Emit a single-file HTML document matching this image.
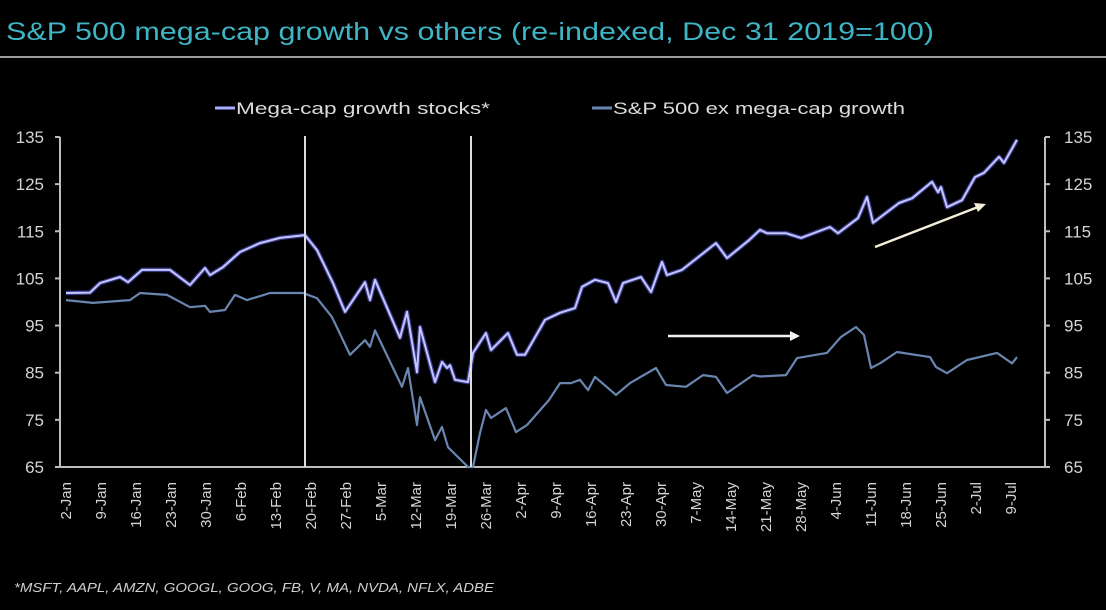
<!DOCTYPE html>
<html><head><meta charset="utf-8"><style>
html,body{margin:0;padding:0;background:#000;}
svg{display:block;font-family:"Liberation Sans",sans-serif;}
</style></head><body>
<svg id="chart" width="1106" height="610" viewBox="0 0 1106 610">
<text x="6" y="40" font-size="25" fill="#3fb4c4" textLength="928" lengthAdjust="spacingAndGlyphs">S&amp;P 500 mega-cap growth vs others (re-indexed, Dec 31 2019=100)</text>
<line x1="0" y1="57" x2="1106" y2="57" stroke="#9a9a9a" stroke-width="2"/>
<g>
<g>
<line x1="215" y1="108" x2="235" y2="108" stroke="#a9acff" stroke-width="3"/>
<text x="236" y="114" font-size="17" fill="#dcdcdc" textLength="254" lengthAdjust="spacingAndGlyphs">Mega-cap growth stocks*</text>
</g>
<g>
<line x1="592" y1="108" x2="612" y2="108" stroke="#6a86b0" stroke-width="3"/>
<text x="613" y="114" font-size="17" fill="#dcdcdc" textLength="292" lengthAdjust="spacingAndGlyphs">S&amp;P 500 ex mega-cap growth</text>
</g>
</g>
<g id="axes"></g>
<g id="marks"></g>
<g>
<line x1="305" y1="136" x2="305" y2="467" stroke="#dddddd" stroke-width="2"/>
<line x1="471" y1="136" x2="471" y2="467" stroke="#dddddd" stroke-width="2"/>
<line x1="668" y1="336" x2="792" y2="336" stroke="#f2f2f2" stroke-width="2.5"/>
<polygon points="800,336 790,331 790,341" fill="#f2f2f2"/>
<line x1="875" y1="247" x2="978" y2="207" stroke="#f2eed8" stroke-width="2.5"/>
<polygon points="986,204 974,203 978,212" fill="#f2eed8"/>
</g>
<text x="14" y="592" font-size="13" font-style="italic" fill="#cfcfcf" textLength="480" lengthAdjust="spacingAndGlyphs">*MSFT, AAPL, AMZN, GOOGL, GOOG, FB, V, MA, NVDA, NFLX, ADBE</text>
</svg>
<script>
const tickLabels=["2-Jan","9-Jan","16-Jan","23-Jan","30-Jan","6-Feb","13-Feb","20-Feb","27-Feb","5-Mar","12-Mar","19-Mar","26-Mar","2-Apr","9-Apr","16-Apr","23-Apr","30-Apr","7-May","14-May","21-May","28-May","4-Jun","11-Jun","18-Jun","25-Jun","2-Jul","9-Jul"];
const yTicks=[65,75,85,95,105,115,125,135];
const megaDays=[0,4.8,6.8,10.8,12.4,15.2,20.8,24.8,27.8,28.8,31.4,34.8,38.8,42.8,47.8,50.2,53.4,55.8,59.8,60.8,61.8,66.8,68.2,70.2,70.8,73.8,75.2,76.2,76.8,77.8,80.4,81.4,84,85,88.4,90.2,91.8,95.8,98.8,101.8,103.2,105.8,108.4,110,111.4,115,117,119.2,120.2,123.2,130,132.2,136.6,138.8,140.2,144,147,152.8,154.4,158.4,160.2,161.4,166.6,169.2,173.2,174.4,175,176.2,179.2,181.8,183.6,186.6,187.6,190.2];
const megaValues=[101.9,102,104,105.3,104.2,106.8,106.8,103.6,107.2,105.7,107.4,110.6,112.5,113.6,114.2,111,104,97.9,104.2,100.4,104.7,92.4,97.9,85.1,94.7,83,87.3,86,86.6,83.5,83,89.2,93.4,89.8,93.4,88.8,88.8,96.2,97.7,98.7,103.2,104.7,104,100,104,105.3,102.1,108.5,105.7,106.8,112.5,109.3,113.1,115.3,114.6,114.6,113.6,115.9,114.6,117.8,122.3,116.8,121,122,125.5,123.3,124.4,120.1,121.6,126.5,127.4,130.8,129.5,134.4];
const exDays=[0,5.4,12.8,14.8,20.2,24.8,27.8,28.8,31.8,33.8,36.2,40.8,47.4,50.2,53.2,56.8,59.8,60.8,61.8,67.2,68.4,70.2,70.8,73.8,75.2,76.4,80.4,81.4,82.8,84,85,88,90,92.2,96.6,98.8,101,102.8,104.4,105.8,110,112.8,118,120,124,127.4,130,132.2,137.4,138.8,144,146.2,152.2,155,158,159.6,161,162.8,166.2,172.8,174,176.2,180.2,186.2,189.2,190.2];
const exValues=[100.4,99.8,100.4,101.9,101.5,98.9,99.2,97.9,98.3,101.5,100.4,101.9,101.9,100.8,96.8,88.8,91.9,90.5,94,82,86,73.9,79.8,70.7,73.5,69.2,65,65,72.2,77.1,75.4,77.5,72.4,73.9,79.2,82.8,82.8,83.5,81.3,84.1,80.3,82.8,86,82.4,82,84.5,84.1,80.7,84.5,84.2,84.5,88.1,89.2,92.6,94.7,93,86,87,89.4,88.3,86.2,84.9,87.7,89.2,87,88.3];

const NS="http://www.w3.org/2000/svg";
const X0=66,PX_PER_DAY=5,Y135=137,PX_PER_UNIT=4.714;
function xScale(d){return X0+d*PX_PER_DAY;}
function yScale(v){return Y135+(135-v)*PX_PER_UNIT;}
function mk(tag,attrs,parent){const e=document.createElementNS(NS,tag);for(const k in attrs)e.setAttribute(k,attrs[k]);parent.appendChild(e);return e;}
const axes=document.getElementById('axes'),marks=document.getElementById('marks');

const la=mk('line',{x1:60,y1:yScale(135),x2:60,y2:467,stroke:'#bdbdbd','stroke-width':2},axes);


const ra=mk('line',{x1:1045,y1:yScale(135),x2:1045,y2:467,stroke:'#bdbdbd','stroke-width':2},axes);


const xa=mk('line',{x1:56,y1:467,x2:1049,y2:467,stroke:'#bdbdbd','stroke-width':2},axes);



yTicks.forEach(v=>{
  const y=yScale(v);
  mk('line',{x1:55,y1:y,x2:60,y2:y,stroke:'#bdbdbd','stroke-width':2},axes);
  mk('line',{x1:1045,y1:y,x2:1050,y2:y,stroke:'#bdbdbd','stroke-width':2},axes);
  const t=mk('text',{x:44,y:y+6,'font-size':17,fill:'#d4d4d4','text-anchor':'end'},axes);
  t.textContent=v;
  
  
  const t2=mk('text',{x:1064,y:y+6,'font-size':17,fill:'#d4d4d4'},axes);
  t2.textContent=v;
  
  
});
tickLabels.forEach((lab,i)=>{
  const x=xScale(i*7);
  const t=mk('text',{x:0,y:0,'font-size':15,fill:'#d4d4d4','text-anchor':'end',transform:`translate(${x+5},482) rotate(-90)`},axes);
  t.textContent=lab;
  
  
});

function path(days,vals){return days.map((d,i)=>(i?'L':'M')+xScale(d).toFixed(1)+','+yScale(vals[i]).toFixed(1)).join(' ');}
const exLine=mk('path',{d:path(exDays,exValues),fill:'none',stroke:'#6a86b0','stroke-width':2.2,'stroke-linejoin':'round'},marks);


const glow=mk('path',{d:path(megaDays,megaValues),fill:'none',stroke:'#5a5cd8','stroke-width':4.5,'stroke-opacity':0.6,'stroke-linejoin':'round'},marks);


const megaLine=mk('path',{d:path(megaDays,megaValues),fill:'none',stroke:'#c4c6ff','stroke-width':2,'stroke-linejoin':'round'},marks);


</script>
</body></html>
